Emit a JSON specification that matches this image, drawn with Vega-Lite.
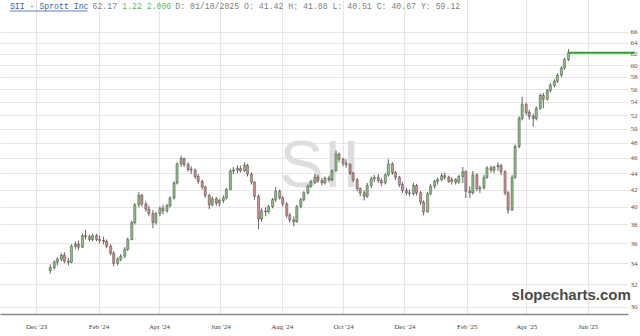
{
  "$schema": "https://vega.github.io/schema/vega-lite/v6.json",
  "width": 628,
  "height": 314,
  "autosize": {"type": "none"},
  "padding": {"left": 0, "top": 0, "right": 12, "bottom": 22},
  "background": "white",
  "config": {"view": {"stroke": null}},
  "resolve": {"axis": {"x": "independent", "y": "independent"}},
  "datasets": {
    "ohlc": [
      {"d":"2023-12-15","o":33.3,"h":33.9,"l":33.0,"c":33.6},
      {"d":"2023-12-19","o":33.6,"h":34.3,"l":33.4,"c":34.1},
      {"d":"2023-12-22","o":34.1,"h":34.6,"l":33.8,"c":34.4},
      {"d":"2023-12-26","o":34.4,"h":35.0,"l":34.2,"c":34.8},
      {"d":"2023-12-29","o":34.8,"h":35.1,"l":34.0,"c":34.2},
      {"d":"2024-01-02","o":34.2,"h":34.5,"l":33.8,"c":34.1},
      {"d":"2024-01-05","o":34.1,"h":35.9,"l":34.0,"c":35.7},
      {"d":"2024-01-09","o":35.7,"h":36.2,"l":35.4,"c":35.9},
      {"d":"2024-01-12","o":35.9,"h":36.3,"l":35.3,"c":35.6},
      {"d":"2024-01-16","o":35.6,"h":37.0,"l":35.5,"c":36.8},
      {"d":"2024-01-19","o":36.8,"h":37.4,"l":36.4,"c":36.7},
      {"d":"2024-01-23","o":36.7,"h":36.9,"l":36.2,"c":36.4},
      {"d":"2024-01-26","o":36.4,"h":37.0,"l":36.2,"c":36.8},
      {"d":"2024-01-30","o":36.8,"h":37.0,"l":36.2,"c":36.4},
      {"d":"2024-02-02","o":36.4,"h":36.8,"l":36.0,"c":36.3},
      {"d":"2024-02-06","o":36.3,"h":36.7,"l":35.9,"c":36.2},
      {"d":"2024-02-09","o":36.2,"h":36.4,"l":35.5,"c":35.7},
      {"d":"2024-02-13","o":35.7,"h":35.9,"l":34.8,"c":35.0},
      {"d":"2024-02-16","o":35.0,"h":35.2,"l":33.7,"c":34.0},
      {"d":"2024-02-20","o":34.0,"h":34.6,"l":33.8,"c":34.4},
      {"d":"2024-02-23","o":34.4,"h":34.9,"l":34.2,"c":34.7},
      {"d":"2024-02-27","o":34.7,"h":35.6,"l":34.5,"c":35.4},
      {"d":"2024-03-01","o":35.4,"h":36.6,"l":35.2,"c":36.4},
      {"d":"2024-03-05","o":36.4,"h":38.4,"l":36.3,"c":38.2},
      {"d":"2024-03-08","o":38.2,"h":40.4,"l":38.0,"c":40.2},
      {"d":"2024-03-12","o":40.2,"h":41.7,"l":39.9,"c":41.3},
      {"d":"2024-03-15","o":41.3,"h":41.5,"l":40.0,"c":40.3},
      {"d":"2024-03-19","o":40.3,"h":40.6,"l":39.4,"c":39.7},
      {"d":"2024-03-22","o":39.7,"h":40.1,"l":38.9,"c":39.2},
      {"d":"2024-03-26","o":39.2,"h":39.6,"l":37.6,"c":38.2},
      {"d":"2024-03-29","o":38.2,"h":39.4,"l":38.0,"c":39.2},
      {"d":"2024-04-02","o":39.2,"h":40.0,"l":38.9,"c":39.8},
      {"d":"2024-04-05","o":39.8,"h":40.2,"l":39.1,"c":39.5},
      {"d":"2024-04-09","o":39.5,"h":40.3,"l":39.3,"c":40.1},
      {"d":"2024-04-12","o":40.1,"h":41.2,"l":39.9,"c":41.0},
      {"d":"2024-04-16","o":41.0,"h":43.0,"l":40.8,"c":42.8},
      {"d":"2024-04-19","o":42.8,"h":45.4,"l":42.6,"c":45.2},
      {"d":"2024-04-23","o":45.2,"h":46.3,"l":44.8,"c":45.9},
      {"d":"2024-04-26","o":45.9,"h":46.0,"l":44.8,"c":45.1},
      {"d":"2024-04-30","o":45.1,"h":45.4,"l":44.2,"c":44.5},
      {"d":"2024-05-03","o":44.5,"h":44.9,"l":43.9,"c":44.4},
      {"d":"2024-05-07","o":44.4,"h":44.6,"l":43.3,"c":43.6},
      {"d":"2024-05-10","o":43.6,"h":43.9,"l":42.7,"c":43.0},
      {"d":"2024-05-14","o":43.0,"h":43.2,"l":42.0,"c":42.3},
      {"d":"2024-05-17","o":42.3,"h":42.5,"l":41.0,"c":41.3},
      {"d":"2024-05-21","o":41.3,"h":41.5,"l":39.7,"c":40.2},
      {"d":"2024-05-24","o":40.2,"h":41.2,"l":40.0,"c":40.9},
      {"d":"2024-05-28","o":40.9,"h":41.1,"l":40.1,"c":40.4},
      {"d":"2024-05-31","o":40.4,"h":40.9,"l":40.0,"c":40.7},
      {"d":"2024-06-04","o":40.7,"h":41.3,"l":40.4,"c":41.0},
      {"d":"2024-06-07","o":41.0,"h":42.2,"l":40.8,"c":42.0},
      {"d":"2024-06-11","o":42.0,"h":44.5,"l":41.9,"c":44.3},
      {"d":"2024-06-14","o":44.3,"h":44.8,"l":43.9,"c":44.4},
      {"d":"2024-06-18","o":44.4,"h":45.0,"l":44.0,"c":44.6},
      {"d":"2024-06-21","o":44.6,"h":45.0,"l":44.1,"c":44.3},
      {"d":"2024-06-25","o":44.3,"h":45.4,"l":44.2,"c":45.0},
      {"d":"2024-06-28","o":45.0,"h":45.2,"l":43.6,"c":43.9},
      {"d":"2024-07-02","o":43.9,"h":44.1,"l":42.6,"c":42.9},
      {"d":"2024-07-05","o":42.9,"h":43.0,"l":40.8,"c":41.2},
      {"d":"2024-07-09","o":41.2,"h":41.4,"l":37.5,"c":38.6},
      {"d":"2024-07-12","o":38.6,"h":39.8,"l":38.3,"c":39.5},
      {"d":"2024-07-16","o":39.5,"h":39.9,"l":38.9,"c":39.4},
      {"d":"2024-07-19","o":39.4,"h":40.2,"l":39.2,"c":40.0},
      {"d":"2024-07-23","o":40.0,"h":41.0,"l":39.8,"c":40.8},
      {"d":"2024-07-26","o":40.8,"h":42.3,"l":40.5,"c":41.8},
      {"d":"2024-07-30","o":41.8,"h":42.0,"l":40.8,"c":41.0},
      {"d":"2024-08-02","o":41.0,"h":41.2,"l":40.0,"c":40.3},
      {"d":"2024-08-06","o":40.3,"h":40.5,"l":38.7,"c":39.0},
      {"d":"2024-08-09","o":39.0,"h":39.3,"l":38.2,"c":38.5},
      {"d":"2024-08-13","o":38.5,"h":38.9,"l":37.8,"c":38.3},
      {"d":"2024-08-16","o":38.3,"h":40.2,"l":38.2,"c":40.0},
      {"d":"2024-08-20","o":40.0,"h":41.0,"l":39.8,"c":40.8},
      {"d":"2024-08-23","o":40.8,"h":41.8,"l":40.6,"c":41.6},
      {"d":"2024-08-27","o":41.6,"h":42.6,"l":41.4,"c":42.4},
      {"d":"2024-08-30","o":42.4,"h":43.2,"l":42.2,"c":42.9},
      {"d":"2024-09-03","o":42.9,"h":43.9,"l":42.7,"c":43.5},
      {"d":"2024-09-06","o":43.5,"h":43.8,"l":42.8,"c":43.1},
      {"d":"2024-09-10","o":43.1,"h":43.4,"l":42.5,"c":42.8},
      {"d":"2024-09-13","o":42.8,"h":43.6,"l":42.6,"c":43.4},
      {"d":"2024-09-17","o":43.4,"h":43.7,"l":42.9,"c":43.2},
      {"d":"2024-09-20","o":43.2,"h":44.5,"l":43.0,"c":44.3},
      {"d":"2024-09-24","o":44.3,"h":47.0,"l":44.2,"c":46.5},
      {"d":"2024-09-27","o":46.5,"h":46.7,"l":45.4,"c":45.8},
      {"d":"2024-10-01","o":45.8,"h":46.0,"l":44.9,"c":45.3},
      {"d":"2024-10-04","o":45.3,"h":45.8,"l":44.7,"c":45.1},
      {"d":"2024-10-08","o":45.1,"h":45.3,"l":43.8,"c":44.0},
      {"d":"2024-10-11","o":44.0,"h":44.2,"l":42.9,"c":43.2},
      {"d":"2024-10-15","o":43.2,"h":43.4,"l":41.8,"c":42.1},
      {"d":"2024-10-18","o":42.1,"h":42.3,"l":41.2,"c":41.6},
      {"d":"2024-10-22","o":41.6,"h":41.9,"l":40.7,"c":41.2},
      {"d":"2024-10-25","o":41.2,"h":42.8,"l":41.0,"c":42.5},
      {"d":"2024-10-29","o":42.5,"h":43.6,"l":42.2,"c":43.3},
      {"d":"2024-11-01","o":43.3,"h":43.8,"l":42.9,"c":43.5},
      {"d":"2024-11-05","o":43.5,"h":43.9,"l":42.8,"c":43.1},
      {"d":"2024-11-08","o":43.1,"h":43.4,"l":42.4,"c":42.8},
      {"d":"2024-11-12","o":42.8,"h":44.0,"l":42.6,"c":43.8},
      {"d":"2024-11-15","o":43.8,"h":45.8,"l":43.6,"c":45.2},
      {"d":"2024-11-19","o":45.2,"h":45.4,"l":43.8,"c":44.1},
      {"d":"2024-11-22","o":44.1,"h":44.3,"l":43.2,"c":43.5},
      {"d":"2024-11-26","o":43.5,"h":43.7,"l":42.3,"c":42.6},
      {"d":"2024-11-29","o":42.6,"h":42.9,"l":41.6,"c":41.9},
      {"d":"2024-12-03","o":41.9,"h":42.2,"l":41.3,"c":41.6},
      {"d":"2024-12-06","o":41.6,"h":42.0,"l":41.2,"c":41.5},
      {"d":"2024-12-10","o":41.5,"h":42.8,"l":41.3,"c":42.5},
      {"d":"2024-12-13","o":42.5,"h":42.7,"l":41.3,"c":41.6},
      {"d":"2024-12-17","o":41.6,"h":41.8,"l":40.2,"c":40.5},
      {"d":"2024-12-20","o":40.5,"h":40.7,"l":39.0,"c":39.4},
      {"d":"2024-12-24","o":39.4,"h":41.7,"l":39.3,"c":41.5},
      {"d":"2024-12-27","o":41.5,"h":42.7,"l":41.3,"c":42.4},
      {"d":"2024-12-31","o":42.4,"h":43.2,"l":42.1,"c":43.0},
      {"d":"2025-01-03","o":43.0,"h":43.5,"l":42.6,"c":43.2},
      {"d":"2025-01-07","o":43.2,"h":44.0,"l":43.0,"c":43.7},
      {"d":"2025-01-10","o":43.7,"h":44.1,"l":43.2,"c":43.5},
      {"d":"2025-01-14","o":43.5,"h":43.7,"l":42.8,"c":43.0},
      {"d":"2025-01-17","o":43.0,"h":43.5,"l":42.6,"c":43.2},
      {"d":"2025-01-21","o":43.2,"h":43.4,"l":42.6,"c":42.9},
      {"d":"2025-01-24","o":42.9,"h":43.8,"l":42.7,"c":43.6},
      {"d":"2025-01-28","o":43.6,"h":44.8,"l":42.8,"c":44.2},
      {"d":"2025-01-31","o":44.2,"h":44.4,"l":41.0,"c":41.8},
      {"d":"2025-02-04","o":41.8,"h":42.4,"l":41.0,"c":41.6},
      {"d":"2025-02-07","o":41.6,"h":44.3,"l":41.4,"c":43.8},
      {"d":"2025-02-11","o":43.8,"h":44.0,"l":41.8,"c":42.1},
      {"d":"2025-02-14","o":42.1,"h":42.5,"l":41.6,"c":42.2},
      {"d":"2025-02-18","o":42.2,"h":43.8,"l":42.0,"c":43.5},
      {"d":"2025-02-21","o":43.5,"h":44.9,"l":43.3,"c":44.7},
      {"d":"2025-02-25","o":44.7,"h":45.0,"l":44.1,"c":44.4},
      {"d":"2025-02-28","o":44.4,"h":45.0,"l":44.0,"c":44.8},
      {"d":"2025-03-04","o":44.8,"h":45.4,"l":44.3,"c":45.0},
      {"d":"2025-03-07","o":45.0,"h":45.2,"l":43.8,"c":44.2},
      {"d":"2025-03-11","o":44.2,"h":44.4,"l":41.3,"c":41.6},
      {"d":"2025-03-14","o":41.6,"h":41.8,"l":39.2,"c":39.6},
      {"d":"2025-03-18","o":39.6,"h":43.8,"l":39.5,"c":43.5},
      {"d":"2025-03-21","o":43.5,"h":47.8,"l":43.3,"c":47.5},
      {"d":"2025-03-25","o":47.5,"h":51.8,"l":47.3,"c":51.5},
      {"d":"2025-03-28","o":51.5,"h":54.8,"l":51.2,"c":53.6},
      {"d":"2025-04-01","o":53.6,"h":53.9,"l":52.0,"c":52.4},
      {"d":"2025-04-04","o":52.4,"h":52.8,"l":51.3,"c":51.8},
      {"d":"2025-04-08","o":51.8,"h":52.2,"l":50.3,"c":51.5},
      {"d":"2025-04-11","o":51.5,"h":53.3,"l":51.2,"c":53.0},
      {"d":"2025-04-15","o":53.0,"h":55.3,"l":52.8,"c":55.0},
      {"d":"2025-04-18","o":55.0,"h":55.4,"l":53.0,"c":54.4},
      {"d":"2025-04-22","o":54.4,"h":56.0,"l":54.2,"c":55.8},
      {"d":"2025-04-25","o":55.8,"h":57.0,"l":55.5,"c":56.6},
      {"d":"2025-04-29","o":56.6,"h":57.6,"l":56.3,"c":57.3},
      {"d":"2025-05-02","o":57.3,"h":58.6,"l":57.0,"c":58.3},
      {"d":"2025-05-06","o":58.3,"h":59.8,"l":58.0,"c":59.5},
      {"d":"2025-05-09","o":59.5,"h":61.3,"l":59.2,"c":60.95},
      {"d":"2025-05-13","o":60.95,"h":62.8,"l":60.7,"c":62.17}
    ],
    "hdr": [
      {"d":"2023-11-04T21:00:00","p":70.87,"t":"SII - Sprott Inc","k":"title"},
      {"d":"2024-01-26T00:00:00","p":70.87,"t":"62.17","k":"gray"},
      {"d":"2024-02-24T10:00:00","p":70.87,"t":"1.22 2.006","k":"green"},
      {"d":"2024-04-17T05:00:00","p":70.87,"t":"D: 01/10/2025 O: 41.42 H: 41.88 L: 40.51 C: 40.67 Y: 59.12","k":"gray"}
    ]
  },
  "layer": [
    {
      "data": {"values": [{"d":"2024-09-08","p":42.3,"t":"SII"}]},
      "mark": {"type": "text", "font": "Liberation Sans", "fontSize": 66, "color": "#dedede", "align": "center", "baseline": "alphabetic"},
      "encoding": {
        "x": {"field": "d", "type": "temporal", "scale": {"domain": ["2023-10-31T00:00:00", "2025-07-06T05:00:00"]}, "axis": null},
        "y": {"field": "p", "type": "quantitative", "scale": {"type": "log", "domain": [29.4, 72.3], "nice": false, "zero": false}, "axis": null},
        "text": {"field": "t"}
      }
    },
    {
      "data": {"name": "ohlc"},
      "mark": {"type": "rule", "color": "#3a3a3a", "strokeWidth": 0.8},
      "encoding": {
        "x": {"field": "d", "type": "temporal", "scale": {"domain": ["2023-10-31T00:00:00", "2025-07-06T05:00:00"]},
          "axis": {
            "values": [
              {"year": 2023, "month": "Dec", "date": 1},
              {"year": 2024, "month": "Feb", "date": 1},
              {"year": 2024, "month": "Apr", "date": 1},
              {"year": 2024, "month": "Jun", "date": 1},
              {"year": 2024, "month": "Aug", "date": 1},
              {"year": 2024, "month": "Oct", "date": 1},
              {"year": 2024, "month": "Dec", "date": 1},
              {"year": 2025, "month": "Feb", "date": 1},
              {"year": 2025, "month": "Apr", "date": 1},
              {"year": 2025, "month": "Jun", "date": 1}
            ],
            "format": "%b '%y", "title": null, "grid": true, "gridColor": "#e6e6e6", "gridWidth": 1,
            "ticks": false, "domainColor": "#8a8a8a", "domainWidth": 1.5,
            "labelFont": "Liberation Serif", "labelFontSize": 7, "labelColor": "#444444", "labelPadding": 8
          }
        },
        "y": {"field": "l", "type": "quantitative", "scale": {"type": "log", "domain": [29.4, 72.3], "nice": false, "zero": false},
          "axis": {
            "orient": "right", "values": [30,32,34,36,38,40,42,44,46,48,50,52,54,56,58,60,62,64,66],
            "format": "d", "title": null, "grid": true, "gridColor": "#e6e6e6", "gridWidth": 1,
            "ticks": false, "domain": false,
            "labelFont": "Liberation Serif", "labelFontSize": 7, "labelColor": "#555555", "labelPadding": 2
          }
        },
        "y2": {"field": "h"}
      }
    },
    {
      "data": {"name": "ohlc"},
      "mark": {"type": "bar", "size": 2.2, "stroke": "#333333", "strokeWidth": 0.4},
      "encoding": {
        "x": {"field": "d", "type": "temporal", "scale": {"domain": ["2023-10-31T00:00:00", "2025-07-06T05:00:00"]}, "axis": null},
        "y": {"field": "o", "type": "quantitative", "scale": {"type": "log", "domain": [29.4, 72.3], "nice": false, "zero": false}, "axis": null},
        "y2": {"field": "c"},
        "fill": {"condition": {"test": "datum.c >= datum.o", "value": "#86c27a"}, "value": "#d08c8c"}
      }
    },
    {
      "data": {"values": [{"d":"2025-05-13","d2":"2025-07-18","p":62.17}]},
      "mark": {"type": "rule", "color": "#2e9e2e", "strokeWidth": 2},
      "encoding": {
        "x": {"field": "d", "type": "temporal", "scale": {"domain": ["2023-10-31T00:00:00", "2025-07-06T05:00:00"]}, "axis": null},
        "x2": {"field": "d2"},
        "y": {"field": "p", "type": "quantitative", "scale": {"type": "log", "domain": [29.4, 72.3], "nice": false, "zero": false}, "axis": null}
      }
    },
    {
      "data": {"name": "hdr"},
      "mark": {"type": "text", "font": "Liberation Mono", "fontSize": 8.2, "align": "left", "baseline": "middle"},
      "encoding": {
        "x": {"field": "d", "type": "temporal", "scale": {"domain": ["2023-10-31T00:00:00", "2025-07-06T05:00:00"]}, "axis": null},
        "y": {"field": "p", "type": "quantitative", "scale": {"type": "log", "domain": [29.4, 72.3], "nice": false, "zero": false}, "axis": null},
        "text": {"field": "t"},
        "color": {"field": "k", "type": "nominal", "scale": {"domain": ["title", "gray", "green"], "range": ["#3b5ea8", "#808080", "#5cb85c"]}, "legend": null}
      }
    },
    {
      "data": {"values": [{"d":"2023-11-04T21:00:00","d2":"2024-01-21T05:00:00","p":70.06}]},
      "mark": {"type": "rule", "color": "#3b5ea8", "strokeWidth": 0.8},
      "encoding": {
        "x": {"field": "d", "type": "temporal", "scale": {"domain": ["2023-10-31T00:00:00", "2025-07-06T05:00:00"]}, "axis": null},
        "x2": {"field": "d2"},
        "y": {"field": "p", "type": "quantitative", "scale": {"type": "log", "domain": [29.4, 72.3], "nice": false, "zero": false}, "axis": null}
      }
    },
    {
      "data": {"values": [{"d":"2025-07-14","p":30.6,"t":"slopecharts.com"}]},
      "mark": {"type": "text", "font": "Liberation Sans", "fontSize": 15, "fontWeight": "bold", "color": "#4a4a4a", "align": "right", "baseline": "alphabetic"},
      "encoding": {
        "x": {"field": "d", "type": "temporal", "scale": {"domain": ["2023-10-31T00:00:00", "2025-07-06T05:00:00"]}, "axis": null},
        "y": {"field": "p", "type": "quantitative", "scale": {"type": "log", "domain": [29.4, 72.3], "nice": false, "zero": false}, "axis": null},
        "text": {"field": "t"}
      }
    }
  ]
}
